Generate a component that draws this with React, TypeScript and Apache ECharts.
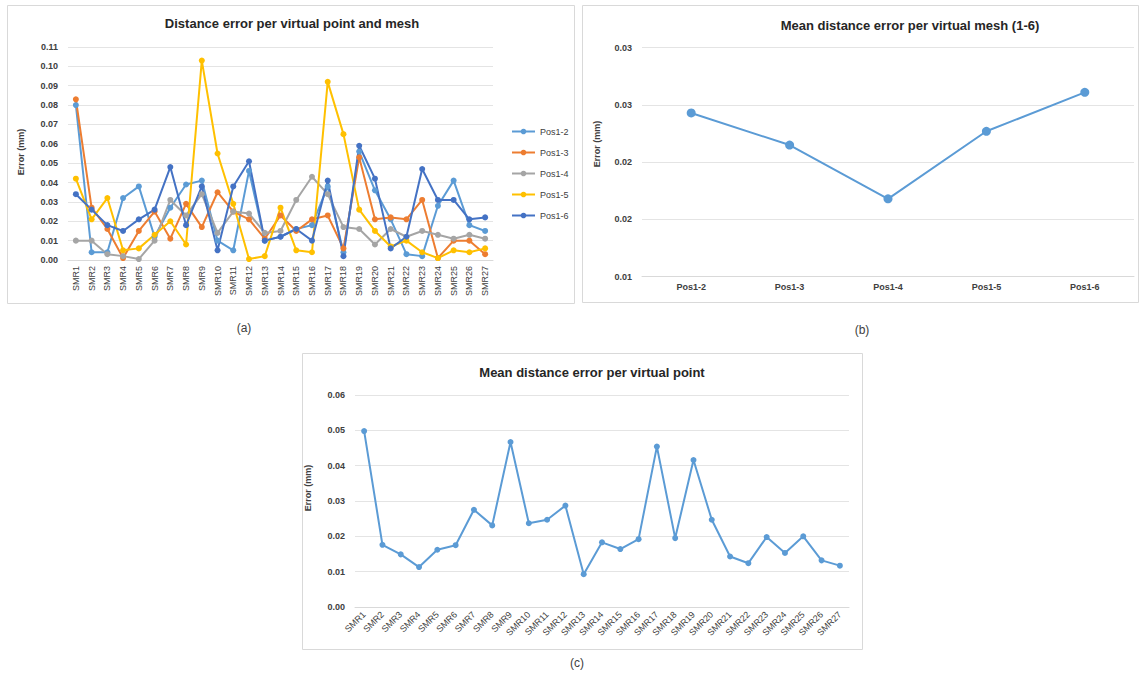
import React, { useEffect, useRef } from "react";
import * as echarts from "echarts";

const smrCategories = [
  "SMR1", "SMR2", "SMR3", "SMR4", "SMR5", "SMR6", "SMR7", "SMR8", "SMR9",
  "SMR10", "SMR11", "SMR12", "SMR13", "SMR14", "SMR15", "SMR16", "SMR17", "SMR18",
  "SMR19", "SMR20", "SMR21", "SMR22", "SMR23", "SMR24", "SMR25", "SMR26", "SMR27",
];

const posNames = ["Pos1-2", "Pos1-3", "Pos1-4", "Pos1-5", "Pos1-6"];
const posColors = ["#5B9BD5", "#ED7D31", "#A5A5A5", "#FFC000", "#4472C4"];

const pos12 = [0.080, 0.004, 0.004, 0.032, 0.038, 0.012, 0.027, 0.039, 0.041, 0.010, 0.005, 0.046, 0.010, 0.012, 0.016, 0.018, 0.038, 0.004, 0.056, 0.036, 0.021, 0.003, 0.002, 0.028, 0.041, 0.018, 0.015];
const pos13 = [0.083, 0.027, 0.016, 0.001, 0.015, 0.025, 0.011, 0.029, 0.017, 0.035, 0.025, 0.021, 0.011, 0.023, 0.015, 0.021, 0.023, 0.006, 0.053, 0.021, 0.022, 0.021, 0.031, 0.001, 0.010, 0.010, 0.003];
const pos14 = [0.010, 0.010, 0.003, 0.002, 0.0005, 0.010, 0.031, 0.023, 0.034, 0.014, 0.025, 0.024, 0.014, 0.015, 0.031, 0.043, 0.034, 0.017, 0.016, 0.008, 0.016, 0.012, 0.015, 0.013, 0.011, 0.013, 0.011];
const pos15 = [0.042, 0.021, 0.032, 0.005, 0.006, 0.013, 0.020, 0.008, 0.103, 0.055, 0.029, 0.0005, 0.002, 0.027, 0.005, 0.004, 0.092, 0.065, 0.026, 0.015, 0.007, 0.010, 0.004, 0.001, 0.005, 0.004, 0.006];
const pos16 = [0.034, 0.026, 0.018, 0.015, 0.021, 0.026, 0.048, 0.018, 0.038, 0.005, 0.038, 0.051, 0.010, 0.012, 0.016, 0.010, 0.041, 0.002, 0.059, 0.042, 0.006, 0.012, 0.047, 0.031, 0.031, 0.021, 0.022];
const posSeries = [pos12, pos13, pos14, pos15, pos16];

const meshMeans = [0.0243, 0.0215, 0.0168, 0.0227, 0.0261];

const pointMeans = [0.0498, 0.0176, 0.0149, 0.0113, 0.0162, 0.0175, 0.0275, 0.0231, 0.0467, 0.0237, 0.0247, 0.0287, 0.0093, 0.0183, 0.0164, 0.0192, 0.0454, 0.0195, 0.0416, 0.0247, 0.0143, 0.0124, 0.0198, 0.0153, 0.0200, 0.0132, 0.0117];

const FONT = "'Liberation Sans Narrow', 'Arial Narrow', 'Liberation Sans', Arial, sans-serif";
const TXT = "#404040";
const fmt2 = (v: number) => (Math.round(v * 100 + 1e-9) / 100).toFixed(2);

const catAxis = (gridIndex: number, data: string[], rotate: number, bold: boolean) => ({
  type: "category",
  gridIndex,
  data,
  boundaryGap: true,
  axisLine: { show: true, lineStyle: { color: "#d9d9d9", width: 1 } },
  axisTick: { show: false },
  axisLabel: {
    interval: 0,
    rotate,
    fontSize: 9,
    color: TXT,
    fontFamily: FONT,
    fontWeight: bold ? "bold" : "normal",
    margin: 6,
  },
});

const valAxis = (gridIndex: number, min: number, max: number, interval: number) => ({
  type: "value",
  gridIndex,
  min,
  max,
  interval,
  axisLine: { show: false },
  axisTick: { show: false },
  splitLine: { show: true, lineStyle: { color: "#e4e4e4", width: 1 } },
  axisLabel: { fontSize: 9, color: TXT, fontFamily: FONT, fontWeight: "bold", margin: 10, formatter: fmt2 },
});

export default function App() {
  const ref = useRef<HTMLDivElement>(null);

  useEffect(() => {
    if (!ref.current) return;
    const chart = echarts.init(ref.current, undefined, { renderer: "svg" });

    const titleStyle = { fontSize: 13, fontWeight: "bold", color: "#262626", fontFamily: FONT };

    const option: any = {
      animation: false,
      backgroundColor: "#ffffff",
      textStyle: { fontFamily: FONT },
      title: [
        { text: "Distance error per virtual point and mesh", left: 292, top: 17, textAlign: "center", padding: 0, textStyle: titleStyle },
        { text: "Mean distance error per virtual mesh (1-6)", left: 910, top: 19, textAlign: "center", padding: 0, textStyle: titleStyle },
        { text: "Mean distance error per virtual point", left: 592, top: 366, textAlign: "center", padding: 0, textStyle: titleStyle },
      ],
      legend: {
        data: posNames,
        orient: "vertical",
        left: 511,
        top: 127,
        itemWidth: 23,
        itemHeight: 7,
        itemGap: 12,
        padding: 0,
        textStyle: { fontSize: 9, color: TXT, fontFamily: FONT },
      },
      grid: [
        { left: 68, right: 1140 - 493, top: 47, bottom: 675 - 260, containLabel: false },
        { left: 642, right: 1140 - 1134, top: 47.7, bottom: 675 - 276.7, containLabel: false },
        { left: 355, right: 1140 - 849, top: 395, bottom: 675 - 607, containLabel: false },
      ],
      xAxis: [
        catAxis(0, smrCategories, 90, false),
        catAxis(1, posNames, 0, true),
        catAxis(2, smrCategories, 45, false),
      ],
      yAxis: [
        valAxis(0, 0, 0.11, 0.01),
        valAxis(1, 0.01, 0.03, 0.005),
        valAxis(2, 0, 0.06, 0.01),
      ],
      series: [
        ...posSeries.map((d, i) => ({
          name: posNames[i],
          type: "line",
          xAxisIndex: 0,
          yAxisIndex: 0,
          data: d,
          symbol: "circle",
          symbolSize: 6,
          color: posColors[i],
          lineStyle: { width: 2, color: posColors[i] },
          itemStyle: { color: posColors[i] },
        })),
        {
          name: "Mean per mesh",
          type: "line",
          xAxisIndex: 1,
          yAxisIndex: 1,
          data: meshMeans,
          symbol: "circle",
          symbolSize: 9,
          lineStyle: { width: 2, color: "#5B9BD5" },
          itemStyle: { color: "#5B9BD5" },
        },
        {
          name: "Mean per point",
          type: "line",
          xAxisIndex: 2,
          yAxisIndex: 2,
          data: pointMeans,
          symbol: "circle",
          symbolSize: 6,
          lineStyle: { width: 2, color: "#5B9BD5" },
          itemStyle: { color: "#5B9BD5" },
        },
      ],
      graphic: [
        { type: "rect", z: -10, shape: { x: 7.5, y: 5.5, width: 567, height: 298 }, style: { fill: "#fff", stroke: "#d9d9d9", lineWidth: 1 } },
        { type: "rect", z: -10, shape: { x: 582.5, y: 5.5, width: 556, height: 297 }, style: { fill: "#fff", stroke: "#d9d9d9", lineWidth: 1 } },
        { type: "rect", z: -10, shape: { x: 302.5, y: 353.5, width: 560, height: 296 }, style: { fill: "#fff", stroke: "#d9d9d9", lineWidth: 1 } },
        { type: "text", x: 21, y: 152, rotation: Math.PI / 2, style: { text: "Error (mm)", fontSize: 9, fontWeight: "bold", fill: TXT, fontFamily: FONT, align: "center", verticalAlign: "middle" } },
        { type: "text", x: 597, y: 144, rotation: Math.PI / 2, style: { text: "Error (mm)", fontSize: 9, fontWeight: "bold", fill: TXT, fontFamily: FONT, align: "center", verticalAlign: "middle" } },
        { type: "text", x: 308, y: 488, rotation: Math.PI / 2, style: { text: "Error (mm)", fontSize: 9, fontWeight: "bold", fill: TXT, fontFamily: FONT, align: "center", verticalAlign: "middle" } },
        { type: "text", x: 244, y: 328, style: { text: "(a)", fontSize: 12, fill: TXT, fontFamily: "'Liberation Sans', Arial, sans-serif", align: "center", verticalAlign: "middle" } },
        { type: "text", x: 862, y: 330, style: { text: "(b)", fontSize: 12, fill: TXT, fontFamily: "'Liberation Sans', Arial, sans-serif", align: "center", verticalAlign: "middle" } },
        { type: "text", x: 577, y: 663, style: { text: "(c)", fontSize: 12, fill: TXT, fontFamily: "'Liberation Sans', Arial, sans-serif", align: "center", verticalAlign: "middle" } },
      ],
    };

    chart.setOption(option);
    return () => chart.dispose();
  }, []);

  return <div ref={ref} style={{ position: "fixed", left: 0, top: 0, width: 1140, height: 675, background: "#fff" }} />;
}
